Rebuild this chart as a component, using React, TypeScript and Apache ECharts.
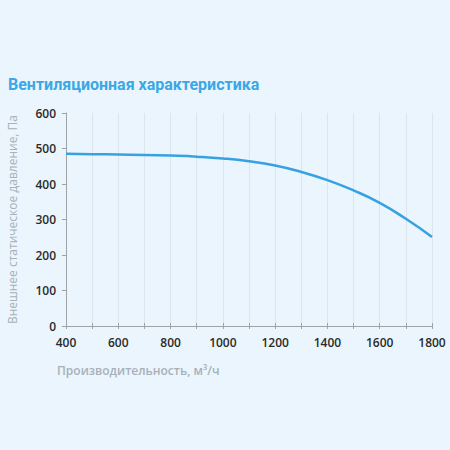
import React, { useEffect, useRef } from 'react';
import * as echarts from 'echarts';

// расход воздуха, м3/ч
const flow = [400, 500, 600, 700, 800, 900, 1000, 1100, 1200, 1300, 1400, 1500, 1600, 1700, 1800];
// внешнее статическое давление, Па
const pressure = [485, 484, 483, 482, 480, 477, 472, 464, 452, 434, 411, 382, 347, 302, 251];

const titleText = 'Вентиляционная характеристика';
const xName = 'Производительность, м³/ч';
const yName = 'Внешнее статическое давление, Па';

const App = () => {
  const chartRef = useRef(null);

  useEffect(() => {
    const chart = echarts.init(chartRef.current, null, { renderer: 'svg' });

    const options = {
      animation: false,
      backgroundColor: '#eaf5fd',
      textStyle: { fontFamily: '"Open Sans", sans-serif' },
      title: {
        text: titleText,
        left: 3,
        top: 71,
        textStyle: {
          color: '#3aa7e6',
          fontSize: 16,
          fontWeight: 'bold',
          fontFamily: 'Roboto, sans-serif',
        },
      },
      grid: { left: 66, right: 18, top: 113, bottom: 124, outerBoundsMode: 'none', containLabel: false },
      xAxis: [
        {
          type: 'value',
          min: 400,
          max: 1800,
          interval: 100,
          axisLine: { lineStyle: { color: '#9ea3a8', width: 1 } },
          axisTick: { show: true, length: 3, lineStyle: { color: '#9ea3a8' } },
          axisLabel: {
            color: '#2a2a2a',
            fontSize: 12,
            fontWeight: 600,
            margin: 10,
            formatter: (v: number) => (v % 200 === 0 ? String(v) : ''),
          },
          splitLine: { show: true, lineStyle: { color: '#dce4ec', width: 1 } },
        },
        {
          // короткие засечки внутрь, чтобы получились «крестики» на оси
          type: 'value',
          min: 400,
          max: 1800,
          interval: 100,
          position: 'bottom',
          axisLine: { show: false },
          axisTick: { show: true, inside: true, length: 3, lineStyle: { color: '#9ea3a8' } },
          axisLabel: { show: false },
          splitLine: { show: false },
        },
      ],
      yAxis: {
        type: 'value',
        min: 0,
        max: 600,
        interval: 100,
        name: yName,
        nameLocation: 'middle',
        nameGap: 48,
        nameTextStyle: { color: '#a8b0b8', fontSize: 12 },
        axisLine: { show: true, lineStyle: { color: '#9ea3a8', width: 1 } },
        axisTick: { show: true, length: 4, lineStyle: { color: '#9ea3a8' } },
        axisLabel: { color: '#2a2a2a', fontSize: 12, fontWeight: 600, margin: 10 },
        splitLine: { show: false },
      },
      graphic: [
        {
          type: 'text',
          left: 57,
          top: 364,
          style: {
            text: xName,
            fill: '#a8b0b8',
            font: '600 12px "Open Sans", sans-serif',
          },
        },
      ],
      series: [
        {
          type: 'line',
          data: flow.map((f, i) => [f, pressure[i]]),
          smooth: true,
          symbol: 'none',
          lineStyle: { color: '#37a2e2', width: 2.5 },
        },
      ],
    };

    chart.setOption(options);

    return () => {
      chart.dispose();
    };
  }, []);

  return (
    <div
      ref={chartRef}
      style={{ position: 'absolute', left: 0, top: 0, width: '450px', height: '450px' }}
    ></div>
  );
};

export default App;
